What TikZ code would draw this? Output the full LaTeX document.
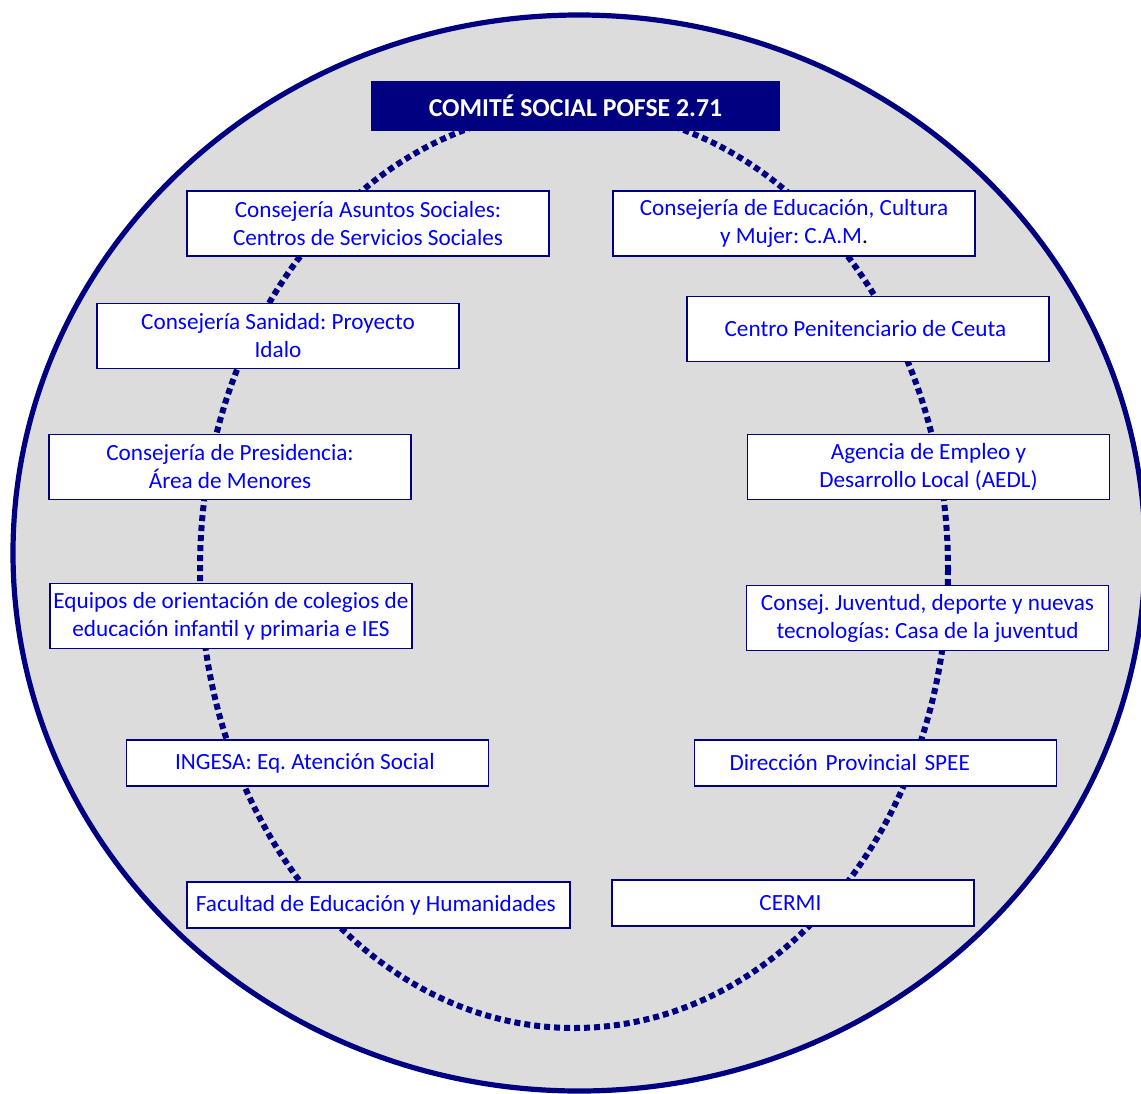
\documentclass[tikz,border=0pt]{standalone}
\usepackage{fontspec}
\setmainfont{Carlito}
\usepackage{tikz}
\definecolor{marino}{RGB}{0,0,128}
\definecolor{fondo}{RGB}{220,220,220}
\definecolor{azul}{RGB}{0,0,255}
\frenchspacing
\newcommand*{\entidad}[4]{%
  \node [ entidad, #3 ] (#1) at (#2) {%
    #4
  };
}

\begin{document}
\begin{tikzpicture}[x=0.5pt, y=-0.5pt,
    every node/.style={font=\fontsize{11.6}{14}\selectfont},
    entidad/.style={draw=marino, line width=0.75pt, fill=white,
                    text=azul, align=center, inner sep=1pt,
                    minimum width=181pt, minimum height=32.5pt},
    baja/.style={minimum height=23pt},
    titulo/.style={fill=marino, text=white, font=\fontsize{12.9}{14}\selectfont\bfseries,
                   minimum width=204.5pt, minimum height=25pt}]

\clip (0,0) rectangle (1141,1093);
% circulo exterior y anillo punteado
\draw [fill=fondo, draw=marino, line width=2.6pt]
    (579,553) ellipse [x radius=566, y radius=538];
\draw [marino, line width=3pt, dash pattern=on 3pt off 2pt]
    (574,569) ellipse [x radius=374, y radius=459];

\node (comite) [titulo] at (575.5,106) {COMITÉ SOCIAL POFSE 2.71};
%
\entidad{asuntos_sociales}{368,223.5}{}{
        Consejería Asuntos Sociales:\\Centros de Servicios Sociales}
\entidad{sanidad}{278,336}{}{
        Consejería Sanidad: Proyecto\\Idalo}
\entidad{presidencia}{230,467}{}{
        Consejería de Presidencia:\\Área de Menores}
\entidad{orientacion}{231,616}{}{
        Equipos de orientación de colegios de\\educación infantil y primaria e IES}
\entidad{ingesa}{307.5,763}{baja}{
        INGESA: Eq. Atención Social}
\entidad{facultad}{378.5,905}{baja, minimum width=191.5pt}{
        Facultad de Educación y Humanidades}
%
\entidad{educacion}{794,223.5}{}{
        Consejería de Educación, Cultura\\y Mujer: C.A.M\textcolor{black}{.}}
\entidad{penitenciario}{868,329}{}{
        Centro Penitenciario de Ceuta}
\entidad{empleo}{928.5,467}{}{
        Agencia de Empleo y\\Desarrollo Local (AEDL)}
\entidad{juventud}{927.5,618}{}{
        Consej. Juventud, deporte y nuevas\\tecnologías: Casa de la juventud}
\entidad{spee}{875.5,763}{baja, align=left, text width=146pt, inner xsep=17.5pt}{
        Dirección Provincial SPEE}
\entidad{cermi}{793,903}{baja}{
        CERMI}
\end{tikzpicture}
\end{document}
